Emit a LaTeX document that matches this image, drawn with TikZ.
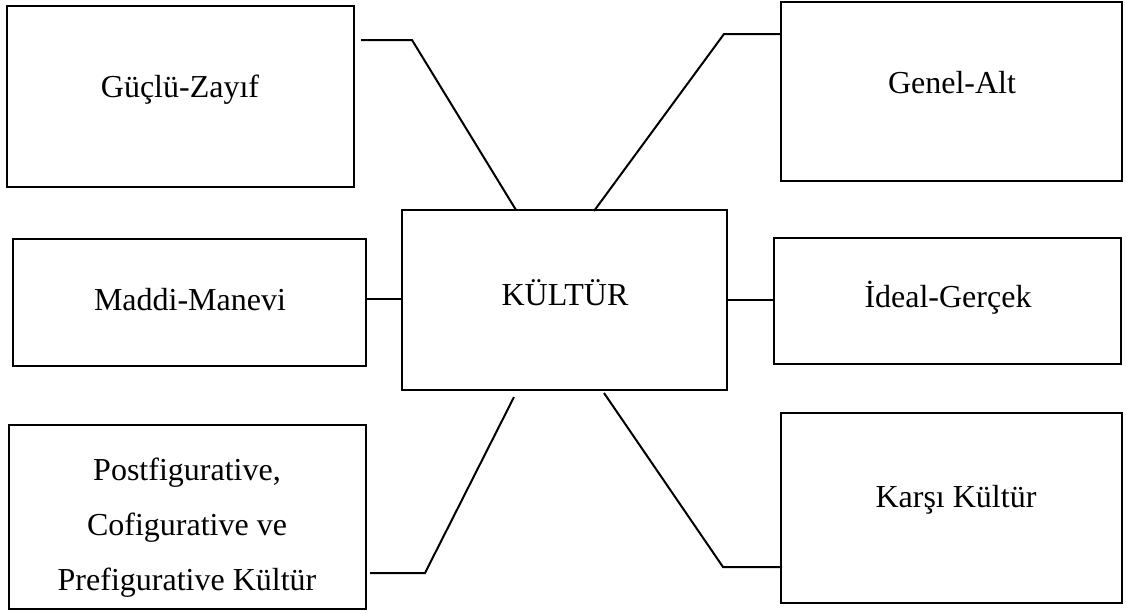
\documentclass[tikz,border=0pt]{standalone}
\usepackage{fontspec}
\setmainfont{Liberation Serif}
\begin{document}
\begin{tikzpicture}[x=0.5pt,y=-0.5pt,
  box/.style={draw,line width=1.2pt,inner sep=0pt},
  conn/.style={line width=1pt,line join=miter},
  thin/.style={line width=0.6pt},
  lab/.style={font=\fontsize{16}{27.5}\selectfont,align=center,inner sep=0pt}]
\useasboundingbox (0,0) rectangle (1126,612);
% boxes
\node[box,minimum width=173.5pt,minimum height=90.5pt] (g) at (180.5,96.5) {};
\node[box,minimum width=170.5pt,minimum height=89.5pt] (ge) at (951.5,91.5) {};
\node[box,minimum width=162.5pt,minimum height=90pt] (k) at (564.5,300) {};
\node[box,minimum width=176.5pt,minimum height=63.5pt] (m) at (189.5,302.5) {};
\node[box,minimum width=173.5pt,minimum height=63pt] (i) at (947.5,301) {};
\node[box,minimum width=178.5pt,minimum height=92pt] (p) at (187.5,517) {};
\node[box,minimum width=170.5pt,minimum height=95pt] (ka) at (951.5,508) {};
% texts
\node[lab] (tg) at (180,90) {Güçlü-Zayıf};
\node[lab] (tge) at (952,83) {Genel-Alt};
\node[lab] (tk) at (565,293) {KÜLTÜR};
\node[lab] (tm) at (190,300) {Maddi-Manevi};
\node[lab] (ti) at (948,298) {İdeal-Gerçek};
\node[lab] (tp) at (187,528) {Postfigurative,\\Cofigurative ve\\Prefigurative Kültür};
\node[lab] (tka) at (956,500) {Karşı Kültür};
% connector points
\coordinate (g1) at (361,40);
\coordinate (g2) at (412,40);
\coordinate (g3) at (516,210);
\coordinate (e1) at (781,34);
\coordinate (e2) at (724,34);
\coordinate (e3) at (594,211);
\coordinate (p1) at (370,573);
\coordinate (p2) at (425,573);
\coordinate (p3) at (514,397);
\coordinate (q1) at (604,393);
\coordinate (q2) at (723,567);
\coordinate (q3) at (782,567);
% connectors
\draw[conn] (g1) -- (g2) -- (g3);
\draw[conn] (e1) -- (e2) -- (e3);
\draw[conn] (p1) -- (p2) -- (p3);
\draw[conn] (q1) -- (q2) -- (q3);
\draw[thin] (m.east |- 0,299) -- (k.west |- 0,299);
\draw[thin] (k.east |- 0,300) -- (i.west |- 0,300);
\end{tikzpicture}
\end{document}
